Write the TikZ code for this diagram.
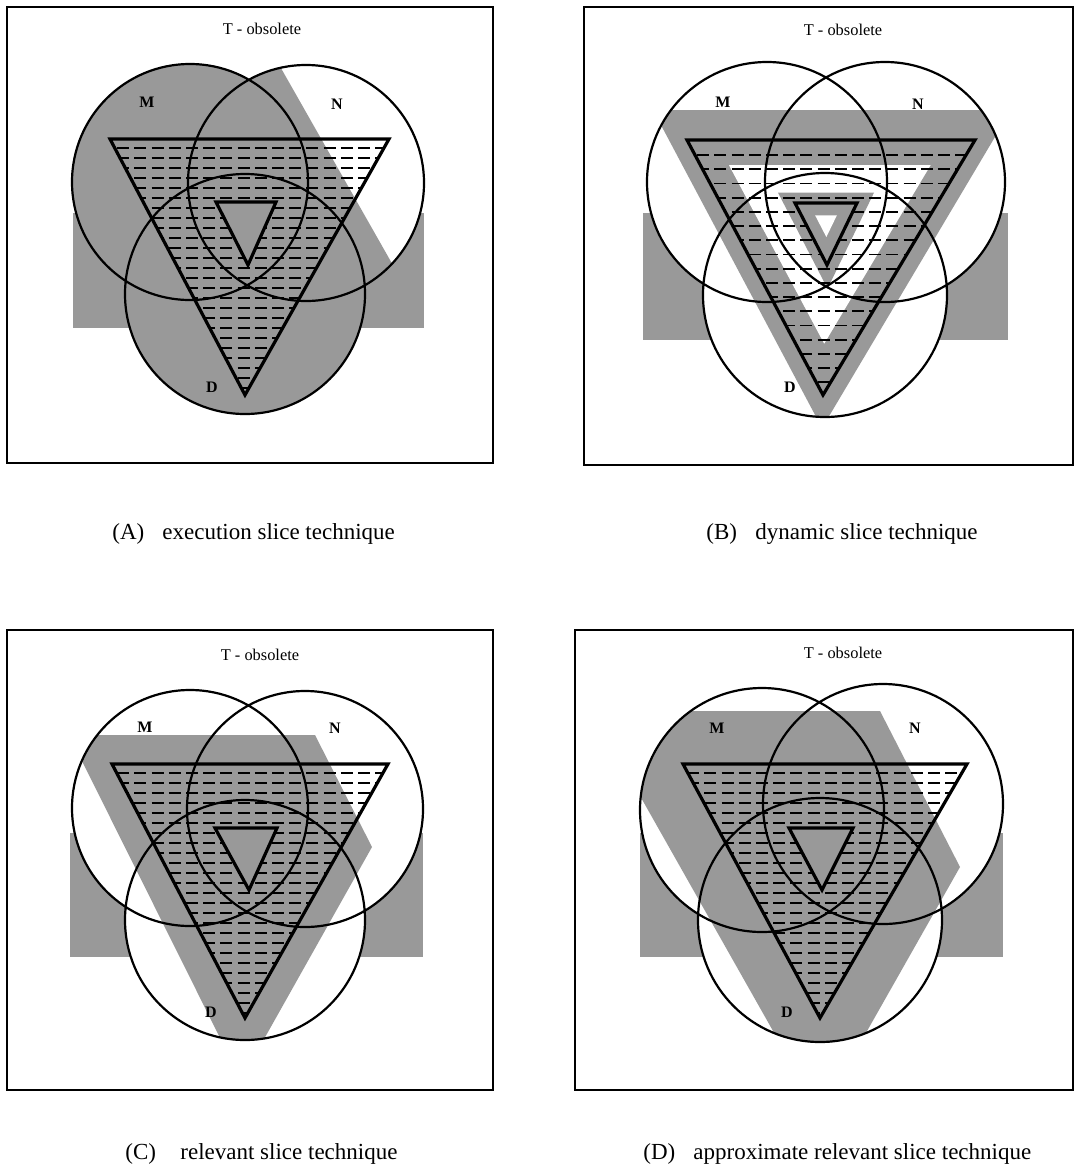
\documentclass[tikz,border=0pt]{standalone}
\usepackage{fontspec}
\setmainfont{Liberation Serif}
\usetikzlibrary{calc}
\definecolor{sgray}{gray}{0.6}
\newcommand\hatchrows[5]{%
  \foreach \k in {0,...,#5}{\draw[dashln] (#1,{#3+#4*\k}) -- (#2,{#3+#4*\k});}}
\begin{document}
\begin{tikzpicture}[x=0.5pt,y=-0.5pt,
  gfill/.style={fill=sgray},
  frameline/.style={draw=black,line width=0.9pt},
  circ/.style={draw=black,line width=1.1pt},
  tri/.style={draw=black,line width=1.6pt,line join=miter},
  dashln/.style={draw=black,line width=0.9pt,dash pattern=on 6pt off 2.6pt},
  title/.style={font=\fontsize{8.2}{10}\selectfont,inner sep=1pt},
  setlabel/.style={font=\bfseries\fontsize{8}{10}\selectfont,inner sep=1pt},
  capt/.style={font=\fontsize{11.5}{13}\selectfont,anchor=base west,inner sep=0pt}]
\useasboundingbox (0,0) rectangle (1074,1168);

%================ Panel A =================
\coordinate (AM) at (190,182);
\coordinate (AN) at (306,183);
\coordinate (AD) at (245,294);
\coordinate (At1) at (110,139); \coordinate (At2) at (389,139); \coordinate (At3) at (245,395);
\coordinate (As1) at (216,202); \coordinate (As2) at (276,202); \coordinate (As3) at (248,265);
\fill[gfill] (73,213) rectangle (424,328);
\fill[white] (AM) circle[radius=59pt] (AN) circle[radius=59pt] (AD) circle[radius=60pt];
\begin{scope}
  \clip (40,40) -- (265,40) -- (498,450) -- (40,450) -- cycle;
  \fill[gfill] (AM) circle[radius=59pt] (AN) circle[radius=59pt] (AD) circle[radius=60pt];
\end{scope}
\begin{scope}
  \clip (At1) -- (At2) -- (At3) -- cycle;
  \hatchrows{100}{400}{148}{10}{25}
\end{scope}
\fill[gfill] (As1) -- (As2) -- (As3) -- cycle;
\draw[circ] (AM) circle[radius=59pt] (AN) circle[radius=59pt] (AD) circle[radius=60pt];
\draw[tri] (At1) -- (At2) -- (At3) -- cycle;
\draw[tri] (As1) -- (As2) -- (As3) -- cycle;
\draw[frameline] (7,7) rectangle (493,463);
\node[title] (AT) at (262,29) {T - obsolete};
\node[setlabel] (ALM) at (147,102) {M};
\node[setlabel] (ALN) at (337,104) {N};
\node[setlabel] (ALD) at (212,387) {D};
\node[capt] (ACa) at (112,539) {(A)};
\node[capt] (ACb) at (162,539) {execution slice technique};

%================ Panel B =================
\coordinate (BM) at (767,182);
\coordinate (BN) at (885,182);
\coordinate (BD) at (825,295);
\coordinate (Bt1) at (687,140); \coordinate (Bt2) at (975,140); \coordinate (Bt3) at (823,395);
\coordinate (Bs1) at (795,203); \coordinate (Bs2) at (857,203); \coordinate (Bs3) at (827,265);
\coordinate (BI) at (827,224);
\coordinate (BJ) at (826,222);
\fill[gfill] (643,213) rectangle (1008,340);
\fill[white] (BM) circle[radius=60pt] (BN) circle[radius=60pt] (BD) circle[radius=61pt];
\begin{scope}
  \clip (653,110) -- (1011,110) -- (822,428) -- cycle;
  \fill[gfill] (BM) circle[radius=60pt] (BN) circle[radius=60pt] (BD) circle[radius=61pt];
\end{scope}
\fill[white] ($(BI)!0.70!(Bt1)$) -- ($(BI)!0.70!(Bt2)$) -- ($(BI)!0.70!(Bt3)$) -- cycle;
\fill[gfill] ($(BJ)!1.55!(Bs1)$) -- ($(BJ)!1.55!(Bs2)$) -- ($(BJ)!1.55!(Bs3)$) -- cycle;
\begin{scope}
  \clip (Bt1) -- (Bt2) -- (Bt3) -- cycle;
  \hatchrows{680}{980}{155}{14.2}{18}
\end{scope}
\fill[gfill] (Bs1) -- (Bs2) -- (Bs3) -- cycle;
\fill[white] ($(BJ)!0.35!(Bs1)$) -- ($(BJ)!0.35!(Bs2)$) -- ($(BJ)!0.35!(Bs3)$) -- cycle;
\draw[circ] (BM) circle[radius=60pt] (BN) circle[radius=60pt] (BD) circle[radius=61pt];
\draw[tri] (Bt1) -- (Bt2) -- (Bt3) -- cycle;
\draw[tri] (Bs1) -- (Bs2) -- (Bs3) -- cycle;
\draw[frameline] (584,7) rectangle (1073,465);
\node[title] (BT) at (843,30) {T - obsolete};
\node[setlabel] (BLM) at (723,102) {M};
\node[setlabel] (BLN) at (918,104) {N};
\node[setlabel] (BLD) at (790,387) {D};
\node[capt] (BCa) at (706,539) {(B)};
\node[capt] (BCb) at (755,539) {dynamic slice technique};

%================ Panel C =================
\coordinate (CM) at (190,808);
\coordinate (CN) at (305,809);
\coordinate (CD) at (245,920);
\coordinate (Ct1) at (112,764); \coordinate (Ct2) at (388,764); \coordinate (Ct3) at (245,1018);
\coordinate (Cs1) at (215,828); \coordinate (Cs2) at (277,828); \coordinate (Cs3) at (249,890);
\fill[gfill] (70,833) rectangle (423,957);
\fill[white] (CM) circle[radius=59pt] (CN) circle[radius=59pt] (CD) circle[radius=60pt];
\begin{scope}
  \clip (69,735) -- (315,735) -- (372,847) -- (241,1080) -- cycle;
  \fill[gfill] (CM) circle[radius=59pt] (CN) circle[radius=59pt] (CD) circle[radius=60pt];
\end{scope}
\begin{scope}
  \clip (Ct1) -- (Ct2) -- (Ct3) -- cycle;
  \hatchrows{100}{400}{773}{10}{25}
\end{scope}
\fill[gfill] (Cs1) -- (Cs2) -- (Cs3) -- cycle;
\draw[circ] (CM) circle[radius=59pt] (CN) circle[radius=59pt] (CD) circle[radius=60pt];
\draw[tri] (Ct1) -- (Ct2) -- (Ct3) -- cycle;
\draw[tri] (Cs1) -- (Cs2) -- (Cs3) -- cycle;
\draw[frameline] (7,630) rectangle (493,1090);
\node[title] (CT) at (260,655) {T - obsolete};
\node[setlabel] (CLM) at (145,727) {M};
\node[setlabel] (CLN) at (335,728) {N};
\node[setlabel] (CLD) at (211,1012) {D};
\node[capt] (CCa) at (125,1159) {(C)};
\node[capt] (CCb) at (180,1159) {relevant slice technique};

%================ Panel D =================
\coordinate (DM) at (762,810);
\coordinate (DN) at (883,804);
\coordinate (DD) at (820,920);
\coordinate (Dt1) at (683,764); \coordinate (Dt2) at (967,764); \coordinate (Dt3) at (820,1018);
\coordinate (Ds1) at (789,828); \coordinate (Ds2) at (853,828); \coordinate (Ds3) at (822,890);
\fill[gfill] (640,833) rectangle (1003,957);
\fill[white] (DM) circle[radius=61pt] (DN) circle[radius=60pt] (DD) circle[radius=61pt];
\begin{scope}
  \clip (592,711) -- (880,711) -- (960,867) -- (820,1114) -- cycle;
  \fill[gfill] (DM) circle[radius=61pt] (DN) circle[radius=60pt] (DD) circle[radius=61pt];
\end{scope}
\begin{scope}
  \clip (Dt1) -- (Dt2) -- (Dt3) -- cycle;
  \hatchrows{670}{980}{773}{10}{25}
\end{scope}
\fill[gfill] (Ds1) -- (Ds2) -- (Ds3) -- cycle;
\draw[circ] (DM) circle[radius=61pt] (DN) circle[radius=60pt] (DD) circle[radius=61pt];
\draw[tri] (Dt1) -- (Dt2) -- (Dt3) -- cycle;
\draw[tri] (Ds1) -- (Ds2) -- (Ds3) -- cycle;
\draw[frameline] (575,630) rectangle (1073,1090);
\node[title] (DT) at (843,653) {T - obsolete};
\node[setlabel] (DLM) at (717,728) {M};
\node[setlabel] (DLN) at (915,728) {N};
\node[setlabel] (DLD) at (787,1012) {D};
\node[capt] (DCa) at (643,1159) {(D)};
\node[capt] (DCb) at (693,1159) {approximate relevant slice technique};
\end{tikzpicture}
\end{document}
